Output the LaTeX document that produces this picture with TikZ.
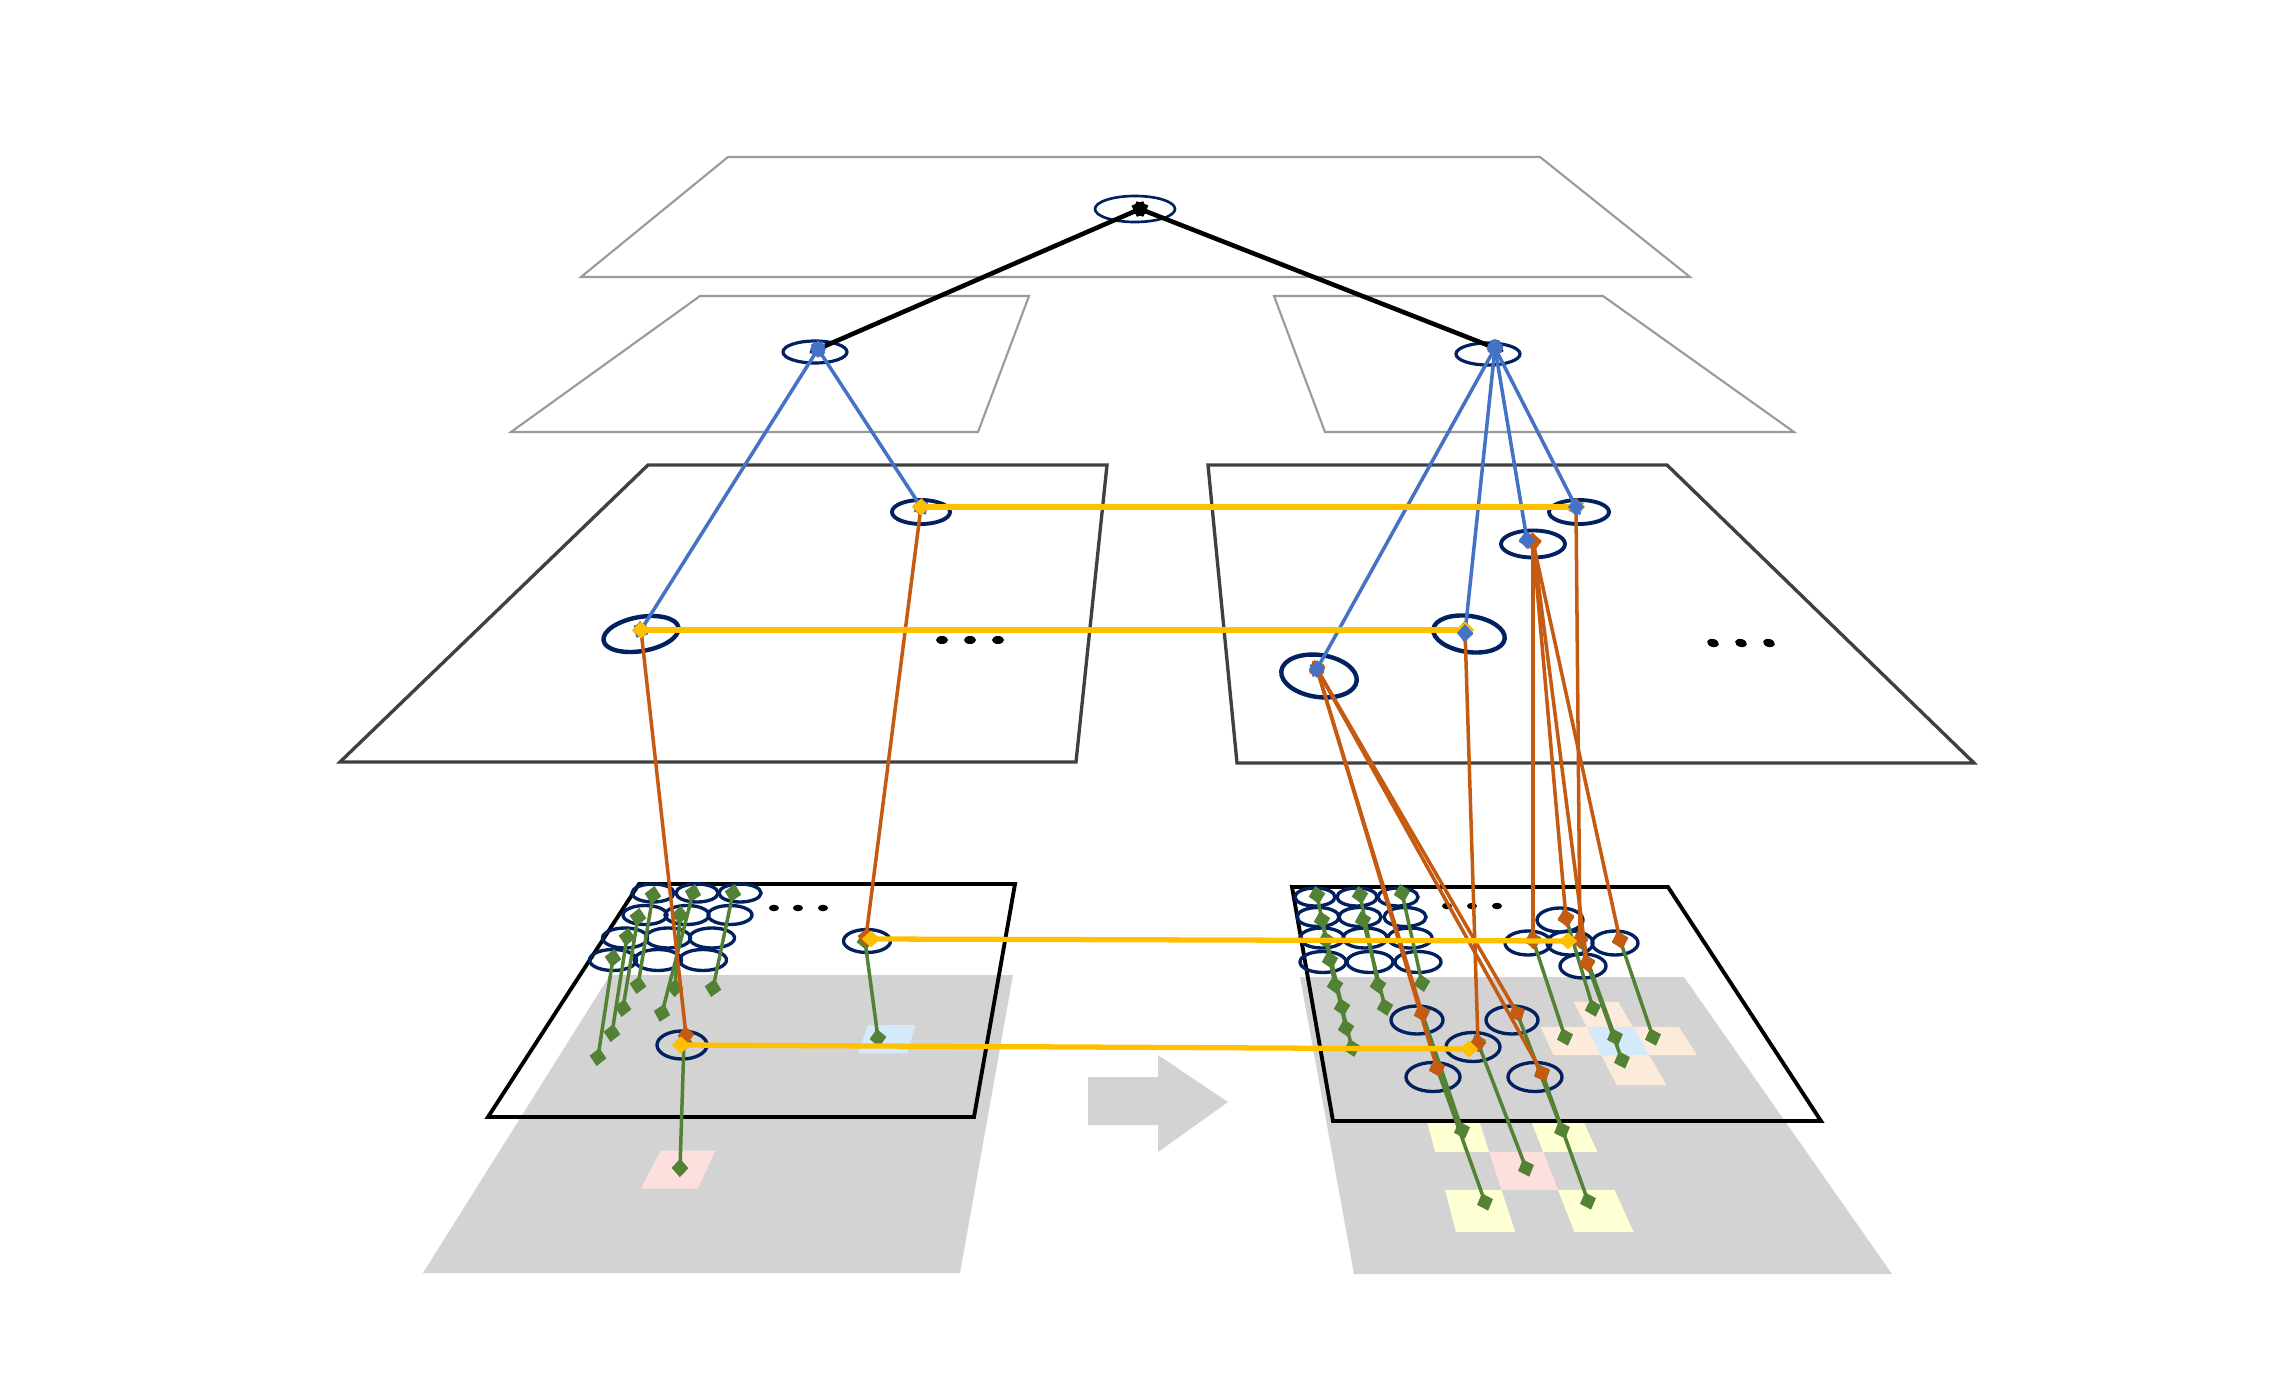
\documentclass[tikz,border=0pt]{standalone}
\usetikzlibrary{shapes.geometric,arrows.meta,calc}
\definecolor{navy}{HTML}{002060}
\definecolor{lblue}{HTML}{4472C4}
\definecolor{lorange}{HTML}{C55A11}
\definecolor{lyellow}{HTML}{FFC000}
\definecolor{lgreen}{HTML}{548235}
\definecolor{shadegray}{HTML}{D3D3D3}
\definecolor{cellyellow}{HTML}{FFFFD4}
\definecolor{cellpink}{HTML}{FDE0DE}
\definecolor{cellblue}{HTML}{D4E9FA}
\definecolor{cellpeach}{HTML}{FCEBDA}
\definecolor{planegray}{HTML}{9A9A9A}
\definecolor{planedark}{HTML}{404040}
\newcommand\mycell[6]{%
  \coordinate (ca) at ($(#1TL)!#4!(#1BL)$);
  \coordinate (cb) at ($(#1TR)!#4!(#1BR)$);
  \coordinate (cc) at ($(#1TL)!#5!(#1BL)$);
  \coordinate (cd) at ($(#1TR)!#5!(#1BR)$);
  \fill[#6] ($(ca)!#2!(cb)$) -- ($(ca)!#3!(cb)$) -- ($(cc)!#3!(cd)$) -- ($(cc)!#2!(cd)$) -- cycle;}
\begin{document}
\begin{tikzpicture}[x=0.01cm,y=-0.01cm,
  ell/.style 2 args={ellipse, draw=navy, line width=0.95pt, minimum width=#1mm, minimum height=#2mm, inner sep=0pt},
  dotn/.style 2 args={ellipse, fill=black, minimum width=#1mm, minimum height=#2mm, inner sep=0pt},
  tips/.style={{Diamond[length=5.2pt,width=4.8pt]}-{Diamond[length=5.2pt,width=4.8pt]}, shorten <=-2.6pt, shorten >=-2.6pt},
  blk/.style={tips, draw=black, line width=1.3pt},
  blu/.style={tips, draw=lblue, line width=1pt},
  ora/.style={tips, draw=lorange, line width=1pt},
  yel/.style={tips, draw=lyellow, line width=1.5pt},
  grn/.style={tips, draw=lgreen, line width=1pt},
  topplane/.style={draw=planegray, line width=0.6pt, line join=miter},
  midplane/.style={draw=planedark, line width=0.95pt, line join=miter},
  botplane/.style={draw=black, line width=1.1pt, line join=miter}]
\useasboundingbox (0,0) rectangle (2296,1379);

% ---------- shadows (image planes) ----------
\fill[shadegray] (610,975) -- (1013,975) -- (960,1273) -- (423,1273) -- cycle;
\fill[shadegray] (1300,977) -- (1684,977) -- (1892,1274) -- (1354,1274) -- cycle;
\coordinate (lTL) at (625,975); \coordinate (lTR) at (1013,975);
\coordinate (lBL) at (423,1273); \coordinate (lBR) at (960,1273);
\coordinate (rTL) at (1311,977); \coordinate (rTR) at (1684,977);
\coordinate (rBL) at (1354,1274); \coordinate (rBR) at (1892,1274);
% cells left
\mycell{l}{0.325}{0.44}{0.589}{0.717}{cellpink}
\mycell{l}{0.67}{0.785}{0.168}{0.263}{cellblue}
% cells right
\mycell{r}{0.67}{0.785}{0.084}{0.168}{cellpeach}
\mycell{r}{0.555}{0.67}{0.168}{0.263}{cellpeach}
\mycell{r}{0.785}{0.90}{0.168}{0.263}{cellpeach}
\mycell{r}{0.67}{0.785}{0.263}{0.364}{cellpeach}
\mycell{r}{0.67}{0.785}{0.168}{0.263}{cellblue}
\mycell{r}{0.21}{0.325}{0.481}{0.589}{cellyellow}
\mycell{r}{0.44}{0.555}{0.481}{0.589}{cellyellow}
\mycell{r}{0.325}{0.44}{0.589}{0.717}{cellpink}
\mycell{r}{0.21}{0.325}{0.717}{0.859}{cellyellow}
\mycell{r}{0.44}{0.555}{0.717}{0.859}{cellyellow}

% gray arrow
\fill[shadegray] (1088,1077) -- (1158,1077) -- (1158,1055) -- (1228,1102) -- (1158,1152) -- (1158,1125) -- (1088,1125) -- cycle;

% ---------- planes ----------
\draw[topplane] (728,157) -- (1540,157) -- (1690,277) -- (581,277) -- cycle;
\draw[topplane] (700,296) -- (1029,296) -- (978,432) -- (511,432) -- cycle;
\draw[topplane] (1274,296) -- (1603,296) -- (1794,432) -- (1325,432) -- cycle;
\draw[midplane] (648,465) -- (1107,465) -- (1076,762) -- (340,762) -- cycle;
\draw[midplane] (1208,465) -- (1667,465) -- (1974,763) -- (1237,763) -- cycle;
\draw[botplane] (639,884) -- (1015,884) -- (974,1117) -- (488,1117) -- cycle;
\draw[botplane] (1292,887) -- (1668,887) -- (1821,1121) -- (1333,1121) -- cycle;

% ---------- ellipses ----------
\node[ell={8}{2.6}, line width=0.75pt] (T) at (1135,209) {};
\node[ell={6.4}{2.2}, line width=0.9pt] (P) at (815,352) {};
\node[ell={6.4}{2.2}, line width=0.9pt] (Q) at (1488,354) {};
\node[ell={7.6}{3.4}, line width=1.25pt, rotate=10] (A) at (641,634) {};
\node[ell={5.8}{2.4}, line width=1.1pt] (B) at (921,512) {};
\node[ell={6.0}{2.4}, line width=1.1pt] (C) at (1579,512) {};
\node[ell={6.4}{2.7}, line width=1.1pt] (D) at (1533,544) {};
\node[ell={7.2}{3.6}, line width=1.25pt, rotate=-8] (E) at (1469,634) {};
\node[ell={7.6}{4.2}, line width=1.25pt, rotate=-8] (F) at (1319,676) {};
% dots level 3
\node[dotn={1.2}{0.8}] (d1) at (942,640) {};
\node[dotn={1.2}{0.8}] (d2) at (970,640) {};
\node[dotn={1.2}{0.8}] (d3) at (998,640) {};
\node[dotn={1.2}{0.8}, rotate=-15] (d4) at (1713,643) {};
\node[dotn={1.2}{0.8}, rotate=-15] (d5) at (1741,643) {};
\node[dotn={1.2}{0.8}, rotate=-15] (d6) at (1769,643) {};
% dots level 4
\node[dotn={1.0}{0.65}] (d7) at (774,908) {};
\node[dotn={1.0}{0.65}] (d8) at (798,908) {};
\node[dotn={1.0}{0.65}] (d9) at (823,908) {};
\node[dotn={1.0}{0.65}] (d10) at (1447,906) {};
\node[dotn={1.0}{0.65}] (d11) at (1472,906) {};
\node[dotn={1.0}{0.65}] (d12) at (1497,906) {};
% left grid
\node[ell={4.2}{1.8}] (la1) at (653,893) {};
\node[ell={4.2}{1.8}] (la2) at (697,893) {};
\node[ell={4.2}{1.8}] (la3) at (740,893) {};
\node[ell={4.4}{1.9}] (lb1) at (645,915) {};
\node[ell={4.4}{1.9}] (lb2) at (687,915) {};
\node[ell={4.4}{1.9}] (lb3) at (730,915) {};
\node[ell={4.5}{2.0}] (lc1) at (625,938) {};
\node[ell={4.5}{2.0}] (lc2) at (668,938) {};
\node[ell={4.5}{2.0}] (lc3) at (712,938) {};
\node[ell={4.7}{2.1}] (ld1) at (613,960) {};
\node[ell={4.7}{2.1}] (ld2) at (658,960) {};
\node[ell={4.7}{2.1}] (ld3) at (703,960) {};
\node[ell={4.7}{2.3}] (G) at (867,941) {};
\node[ell={5.0}{2.8}] (H) at (682,1045) {};
% right grid
\node[ell={4.0}{1.8}] (ra1) at (1315,897) {};
\node[ell={4.0}{1.8}] (ra2) at (1357,897) {};
\node[ell={4.0}{1.8}] (ra3) at (1398,897) {};
\node[ell={4.2}{1.9}] (rb1) at (1318,917) {};
\node[ell={4.2}{1.9}] (rb2) at (1360,917) {};
\node[ell={4.2}{1.9}] (rb3) at (1405,917) {};
\node[ell={4.4}{2.0}] (rc1) at (1322,938) {};
\node[ell={4.4}{2.0}] (rc2) at (1365,938) {};
\node[ell={4.4}{2.0}] (rc3) at (1410,938) {};
\node[ell={4.6}{2.1}] (rd1) at (1323,962) {};
\node[ell={4.6}{2.1}] (rd2) at (1370,962) {};
\node[ell={4.6}{2.1}] (rd3) at (1418,962) {};
\node[ell={4.6}{2.4}] (N1) at (1560,920) {};
\node[ell={4.6}{2.4}] (N2) at (1528,943) {};
\node[ell={4.6}{2.4}] (N3) at (1570,943) {};
\node[ell={4.6}{2.4}] (N4) at (1615,943) {};
\node[ell={4.6}{2.4}] (N5) at (1583,966) {};
\node[ell={5.2}{2.8}] (L1) at (1417,1020) {};
\node[ell={5.2}{2.8}] (L2) at (1512,1020) {};
\node[ell={5.4}{2.9}] (L3) at (1473,1047) {};
\node[ell={5.4}{2.9}] (L4) at (1433,1077) {};
\node[ell={5.4}{2.9}] (L5) at (1535,1077) {};

% ---------- marker coordinates ----------
\coordinate (Tm) at (1140,209);
\coordinate (Pm) at (818,349);
\coordinate (Qm) at (1495,348);
\coordinate (Am) at (641,630);
\coordinate (Bm) at (921,507);
\coordinate (Cm) at (1576,507);
\coordinate (Dm) at (1527,540);
\coordinate (Do) at (1533,542);
\coordinate (Em) at (1465,630);
\coordinate (Eb) at (1465,633);
\coordinate (Fm) at (1317,669);
\coordinate (Go) at (866,937);
\coordinate (Gy) at (871,939);
\coordinate (Gg) at (865,941);
\coordinate (Gend) at (878,1038);
\coordinate (Ho) at (686,1035);
\coordinate (Hy) at (681,1045);
\coordinate (Hg) at (684,1042);
\coordinate (Hend) at (680,1168);
\coordinate (N1o) at (1566,918);
\coordinate (N2o) at (1533,940);
\coordinate (N3y) at (1568,941);
\coordinate (N3o) at (1580,940);
\coordinate (N4o) at (1620,940);
\coordinate (N5o) at (1587,963);
\coordinate (L1o) at (1422,1013);
\coordinate (L2o) at (1517,1013);
\coordinate (L3o) at (1478,1043);
\coordinate (L3y) at (1469,1049);
\coordinate (L4o) at (1437,1068);
\coordinate (L5o) at (1542,1073);
\coordinate (N1e) at (1593,1008);
\coordinate (N2e) at (1565,1037);
\coordinate (N3e) at (1615,1037);
\coordinate (N4e) at (1653,1037);
\coordinate (N5e) at (1622,1060);
\coordinate (L1e) at (1462,1130);
\coordinate (L2e) at (1562,1130);
\coordinate (L3e) at (1526,1168);
\coordinate (L4e) at (1485,1202);
\coordinate (L5e) at (1588,1201);
% left grid markers
\coordinate (g1s) at (653,895); \coordinate (g1e) at (638,985);
\coordinate (g2s) at (693,893); \coordinate (g2e) at (662,1013);
\coordinate (g3s) at (733,893); \coordinate (g3e) at (713,988);
\coordinate (g4s) at (638,917); \coordinate (g4e) at (623,1008);
\coordinate (g5s) at (680,915); \coordinate (g5e) at (675,988);
\coordinate (g6s) at (627,937); \coordinate (g6e) at (612,1033);
\coordinate (g7s) at (613,958); \coordinate (g7e) at (598,1057);
% right grid markers
\coordinate (h1s) at (1317,895); \coordinate (h1e) at (1335,985);
\coordinate (h2s) at (1322,920); \coordinate (h2e) at (1342,1007);
\coordinate (h3s) at (1326,940); \coordinate (h3e) at (1346,1028);
\coordinate (h4s) at (1330,960); \coordinate (h4e) at (1352,1048);
\coordinate (h5s) at (1360,895); \coordinate (h5e) at (1378,985);
\coordinate (h6s) at (1363,920); \coordinate (h6e) at (1385,1007);
\coordinate (h7s) at (1402,893); \coordinate (h7e) at (1422,983);

% ---------- connectors ----------
\draw[blk] (Tm) -- (Pm);
\draw[blk] (Tm) -- (Qm);
\draw[blu] (Pm) -- (Am);
\draw[blu] (Pm) -- (Bm);
\draw[blu] (Qm) -- (Fm);
\draw[blu] (Qm) -- (Eb);
\draw[blu] (Qm) -- (Dm);
\draw[blu] (Qm) -- (Cm);
% green
\foreach \i in {1,...,7} {\draw[grn] (g\i s) -- (g\i e); \draw[grn] (h\i s) -- (h\i e);}
\draw[grn] (Gg) -- (Gend);
\draw[grn] (Hg) -- (Hend);
\draw[grn] (N1o) -- (N1e);
\draw[grn] (N2o) -- (N2e);
\draw[grn] (N3o) -- (N3e);
\draw[grn] (N4o) -- (N4e);
\draw[grn] (N5o) -- (N5e);
\draw[grn] (L1o) -- (L1e);
\draw[grn] (L2o) -- (L2e);
\draw[grn] (L3o) -- (L3e);
\draw[grn] (L4o) -- (L4e);
\draw[grn] (L5o) -- (L5e);
% orange
\draw[ora] (Am) -- (Ho);
\draw[ora] (Bm) -- (Go);
\draw[ora] (Fm) -- (L1o);
\draw[ora] (Fm) -- (L4o);
\draw[ora] (Fm) -- (L2o);
\draw[ora] (Fm) -- (L5o);
\draw[ora] (Em) -- (L3o);
\draw[ora] (Do) -- (N2o);
\draw[ora] (Do) -- (N1o);
\draw[ora] (Do) -- (N5o);
\draw[ora] (Do) -- (N4o);
\draw[ora] (Cm) -- (N3o);
% yellow
\draw[yel] (Bm) -- (Cm);
\draw[yel] (Am) -- (Em);
\draw[yel] (Gy) -- (N3y);
\draw[yel] (Hy) -- (L3y);
% blue markers on top at level-3 nodes
\fill[lblue] (Dm) ++(0,-9) -- ++(8,9) -- ++(-8,9) -- ++(-8,-9) -- cycle;
\fill[lblue] (Cm) ++(0,-9) -- ++(8,9) -- ++(-8,9) -- ++(-8,-9) -- cycle;
\fill[lblue] (Eb) ++(0,-9) -- ++(8,9) -- ++(-8,9) -- ++(-8,-9) -- cycle;
\fill[lblue] (Fm) ++(0,-9) -- ++(8,9) -- ++(-8,9) -- ++(-8,-9) -- cycle;
\fill[lblue] (Pm) ++(0,-9) -- ++(8,9) -- ++(-8,9) -- ++(-8,-9) -- cycle;
\fill[lblue] (Qm) ++(0,-9) -- ++(8,9) -- ++(-8,9) -- ++(-8,-9) -- cycle;
\end{tikzpicture}
\end{document}
